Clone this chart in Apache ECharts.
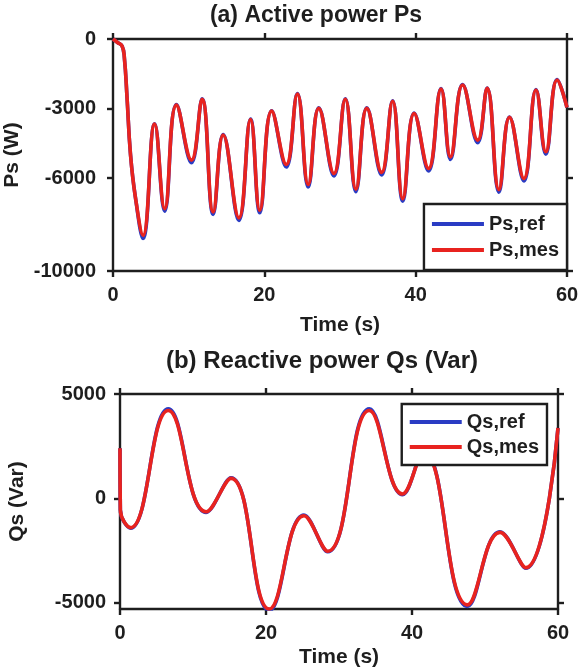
<!DOCTYPE html>
<html>
<head>
<meta charset="utf-8">
<script src="https://cdn.jsdelivr.net/npm/echarts@6/dist/echarts.min.js"></script>
<style>
  html, body { margin: 0; padding: 0; background: #fff; }
  #chart { width: 582px; height: 671px; }
</style>
</head>
<body>
<div id="chart"></div>
<script>
// (a) Active power: time instants (s) and values (W)
const psTime = [0, 0.6, 1.2, 1.5, 1.85, 2.3, 2.95, 3.97, 5.5, 6.83, 8.38, 10.37, 11.78, 13.24, 14.56, 16.64, 18.18, 19.4, 20.97, 22.9, 24.37, 25.8, 27.2, 29.2, 30.7, 32.1, 33.55, 35.5, 36.95, 38.3, 39.8, 41.7, 43.35, 44.6, 46.2, 48.2, 49.45, 51.0, 52.4, 54.3, 55.9, 57.2, 58.7, 60];
const psRef  = [0, -150, -300, -800, -2490, -4930, -6800, -8600, -3650, -7420, -2830, -5330, -2580, -7560, -4120, -7820, -3450, -7490, -3090, -5520, -2350, -6380, -2970, -5900, -2580, -6580, -2970, -5860, -2660, -6990, -3190, -5690, -2140, -5190, -1965, -4470, -2110, -6600, -3360, -6120, -2180, -4970, -1750, -2950];
const psMes  = [0, -150, -300, -800, -2490, -4930, -6800, -8460, -3670, -7310, -2850, -5220, -2600, -7450, -4140, -7710, -3470, -7380, -3110, -5410, -2370, -6270, -2990, -5800, -2600, -6470, -2990, -5750, -2680, -6880, -3210, -5580, -2160, -5080, -1985, -4360, -2130, -6490, -3380, -6010, -2200, -4860, -1770, -2950];
const psTicks = [-10000, -6000, -3000, 0];

// (b) Reactive power: time instants (s) and values (Var)
const qsTime = [0, 0.05, 1.46, 6.62, 11.8, 15.2, 20.45, 25.2, 28.45, 34.15, 38.7, 41.6, 47.6, 52.05, 55.6, 60];
const qsRef  = [2400, -560, -1430, 4290, -670, 990, -5380, -800, -2560, 4290, 180, 2250, -5180, -1600, -3350, 3370];
const qsMes  = [2400, -560, -1400, 4210, -640, 960, -5300, -830, -2530, 4210, 210, 2200, -5100, -1630, -3320, 3370];
const qsTicks = [-5000, 0, 5000];

const timeTicks = [0, 20, 40, 60];

const FONT = 'Liberation Sans, Arial, sans-serif';
const INK = '#1e1e1e';
const RED = '#e8231f';
const BLUE = '#2a3cc4';

const pairs = (xs, ys) => xs.map((x, i) => [x, ys[i]]);
const plain = v => String(v);

const labelStyle = { fontFamily: FONT, fontWeight: 'bold', fontSize: 20, color: INK, formatter: plain };
const nameStyle = { fontFamily: FONT, fontWeight: 'bold', fontSize: 21, color: INK };
const lineStyle = { color: INK, width: 2.4 };

function xAxisPair(grid, nameGap, labelMargin) {
  return [
    {
      type: 'value', gridIndex: grid, min: 0, max: 60, position: 'bottom',
      axisLine: { show: true, onZero: false, lineStyle },
      axisTick: { show: true, inside: false, length: 6, lineStyle, customValues: timeTicks },
      axisLabel: { ...labelStyle, margin: labelMargin, customValues: timeTicks },
      splitLine: { show: false },
      name: 'Time (s)', nameLocation: 'middle', nameGap, nameTextStyle: nameStyle
    },
    {
      type: 'value', gridIndex: grid, min: 0, max: 60, position: 'top',
      axisLine: { show: true, onZero: false, lineStyle },
      axisTick: { show: true, inside: false, length: 6, lineStyle, customValues: timeTicks },
      axisLabel: { show: false },
      splitLine: { show: false }
    }
  ];
}

function yAxisPair(grid, min, max, ticks, name, nameGap, labelMargin) {
  return [
    {
      type: 'value', gridIndex: grid, min, max, position: 'left',
      axisLine: { show: true, onZero: false, lineStyle },
      axisTick: { show: true, inside: false, length: 6, lineStyle, customValues: ticks },
      axisLabel: { ...labelStyle, margin: labelMargin, customValues: ticks },
      splitLine: { show: false },
      name, nameLocation: 'middle', nameGap, nameRotate: 90, nameTextStyle: nameStyle
    },
    {
      type: 'value', gridIndex: grid, min, max, position: 'right',
      axisLine: { show: true, onZero: false, lineStyle },
      axisTick: { show: true, inside: false, length: 6, lineStyle, customValues: ticks },
      axisLabel: { show: false },
      splitLine: { show: false }
    }
  ];
}

function curve(name, data, color, xIdx, yIdx, z) {
  return {
    name, type: 'line', data, xAxisIndex: xIdx, yAxisIndex: yIdx,
    smooth: 0.45, showSymbol: false, symbol: 'none', z,
    lineStyle: { color, width: 3.6 }, itemStyle: { color },
    animation: false, clip: true
  };
}

function legendFor(names, right, top, padV, gap) {
  return {
    data: names.map(n => ({ name: n, icon: 'rect' })),
    orient: 'vertical', right, top,
    itemWidth: 52, itemHeight: 4, itemGap: gap,
    padding: [padV, 8, padV, 8],
    borderColor: INK, borderWidth: 2.4, backgroundColor: '#fff',
    textStyle: { fontFamily: FONT, fontWeight: 'bold', fontSize: 20, color: INK, lineHeight: 20 },
    selectedMode: false, z: 10
  };
}

const chart = echarts.init(document.getElementById('chart'), null, { renderer: 'canvas' });

chart.setOption({
  animation: false,
  backgroundColor: '#fff',
  grid: [
    { left: 113, right: 15, top: 39, height: 232, outerBoundsMode: 'none', containLabel: false },
    { left: 120, right: 24, top: 394, height: 215, outerBoundsMode: 'none', containLabel: false }
  ],
  xAxis: [...xAxisPair(0, 44, 14), ...xAxisPair(1, 38, 14)],
  yAxis: [
    ...yAxisPair(0, -10000, 0, psTicks, 'Ps (W)', 76, 17),
    ...yAxisPair(1, -5300, 5000, qsTicks, 'Qs (Var)', 92, 14)
  ],
  legend: [
    legendFor(['Ps,ref', 'Ps,mes'], 15, 204, 10, 6),
    legendFor(['Qs,ref', 'Qs,mes'], 35, 404, 8, 5)
  ],
  graphic: [
    { type: 'text', x: 316, y: 4, style: { text: '(a) Active power Ps', font: 'bold 23px ' + FONT, fill: INK, textAlign: 'center' } },
    { type: 'text', x: 322, y: 349, style: { text: '(b) Reactive power Qs (Var)', font: 'bold 24px ' + FONT, fill: INK, textAlign: 'center' } }
  ],
  series: [
    curve('Ps,ref', pairs(psTime, psRef), BLUE, 0, 0, 2),
    curve('Ps,mes', pairs(psTime, psMes), RED, 0, 0, 3),
    curve('Qs,ref', pairs(qsTime, qsRef), BLUE, 2, 2, 2),
    curve('Qs,mes', pairs(qsTime, qsMes), RED, 2, 2, 3)
  ]
});
</script>
</body>
</html>
